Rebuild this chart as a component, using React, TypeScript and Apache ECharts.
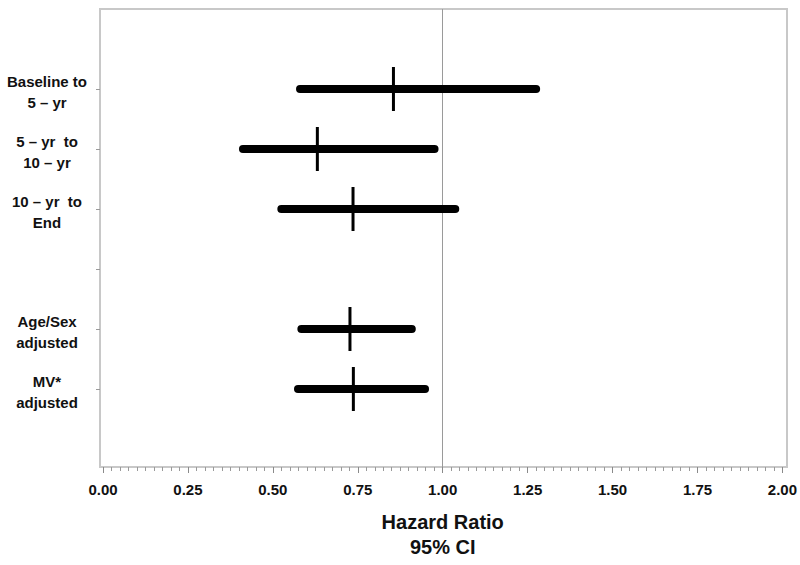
import React, { useEffect, useRef } from "react";
import * as echarts from "echarts";

// Row labels (top to bottom); row 4 is an empty spacer row
const rowLabels = [
  "Baseline to\n5 – yr",
  "5 – yr  to\n10 – yr",
  "10 – yr  to\nEnd",
  "",
  "Age/Sex\nadjusted",
  "MV*\nadjusted",
];
const rowPositions = [1, 2, 3, 4, 5, 6];
const ciLow = [0.58, 0.412, 0.525, null, 0.584, 0.574];
const ciHigh = [1.275, 0.976, 1.037, null, 0.909, 0.948];
const hazardRatio = [0.855, 0.631, 0.736, null, 0.727, 0.737];
const referenceValue = 1.0;
const xMin = 0;
const xMax = 2;
const xInterval = 0.25;
const xTitle = "Hazard Ratio\n95% CI";

const FONT = "'Liberation Sans', Arial, Helvetica, sans-serif";

export default function App() {
  const ref = useRef<HTMLDivElement>(null);

  useEffect(() => {
    document.body.style.margin = "0";
    if (!ref.current) return;
    const chart = echarts.init(ref.current, null, { renderer: "svg" });

    const data = rowPositions
      .map((r, i) => [ciLow[i], ciHigh[i], hazardRatio[i], r])
      .filter((d) => d[0] !== null);

    const labelStyle = {
      fontFamily: FONT,
      fontWeight: "bold",
      fontSize: 15,
      lineHeight: 21,
      color: "#111",
      align: "center",
    };

    const option = {
      animation: false,
      backgroundColor: "#ffffff",
      grid: { left: 103, right: 17, top: 9, bottom: 98, show: false },
      graphic: [
        {
          type: "rect",
          z: 0,
          shape: { x: 100, y: 9, width: 687, height: 458 },
          style: { fill: "none", stroke: "#c8c8c8", lineWidth: 2 },
          silent: true,
        },
      ],
      xAxis: {
        type: "value",
        position: "bottom",
        min: xMin,
        max: xMax,
        interval: xInterval,
        axisLine: { show: false, onZero: false },
        axisTick: { show: true, length: 6, lineStyle: { color: "#8a8a8a", width: 1 } },
        minorTick: { show: true, splitNumber: 10, length: 4, lineStyle: { color: "#9a9a9a", width: 1 } },
        splitLine: { show: false },
        axisLabel: {
          margin: 15,
          fontFamily: FONT,
          fontWeight: "bold",
          fontSize: 15,
          color: "#111",
          formatter: (v: number) => v.toFixed(2),
        },
        name: xTitle,
        nameLocation: "middle",
        nameGap: 42,
        nameTextStyle: {
          fontFamily: FONT,
          fontWeight: "bold",
          fontSize: 20,
          lineHeight: 25,
          color: "#111",
        },
      },
      yAxis: {
        type: "value",
        inverse: true,
        min: -0.3333,
        max: 7.3,
        offset: 3,
        axisLine: { show: false, onZero: false },
        splitLine: { show: false },
        axisTick: {
          show: true,
          length: 4,
          customValues: rowPositions,
          lineStyle: { color: "#9a9a9a", width: 1 },
        },
        axisLabel: {
          customValues: rowPositions,
          align: "center",
          margin: 53,
          fontFamily: FONT,
          fontWeight: "bold",
          fontSize: 15,
          lineHeight: 21,
          color: "#111",
          rich: {
            s: { ...labelStyle, fontSize: 4, lineHeight: 6 },
            a: labelStyle,
          },
          formatter: (v: number) => {
            const t = rowLabels[Math.round(v) - 1] ?? "";
            if (!t) return "";
            return "{s| }\n" + t.split("\n").map((l) => "{a|" + l + "}").join("\n");
          },
        },
      },
      series: [
        {
          type: "line",
          data: [],
          z: 1,
          markLine: {
            silent: true,
            symbol: "none",
            label: { show: false },
            lineStyle: { color: "#9a9a9a", width: 1, type: "solid" },
            data: [{ xAxis: referenceValue }],
          },
        },
        {
          type: "custom",
          z: 5,
          data,
          encode: { x: [0, 1, 2], y: 3 },
          renderItem: (params: any, api: any) => {
            const lo = api.coord([api.value(0), api.value(3)]);
            const hi = api.coord([api.value(1), api.value(3)]);
            const pt = api.coord([api.value(2), api.value(3)]);
            return {
              type: "group",
              children: [
                {
                  type: "line",
                  shape: { x1: lo[0], y1: lo[1], x2: hi[0], y2: hi[1] },
                  style: { stroke: "#000", lineWidth: 8, lineCap: "round" },
                },
                {
                  type: "line",
                  shape: { x1: pt[0], y1: pt[1] - 22, x2: pt[0], y2: pt[1] + 22 },
                  style: { stroke: "#000", lineWidth: 3 },
                },
              ],
            };
          },
        },
      ],
    };

    chart.setOption(option as any);
    return () => chart.dispose();
  }, []);

  return <div ref={ref} style={{ width: 800, height: 565 }} />;
}
